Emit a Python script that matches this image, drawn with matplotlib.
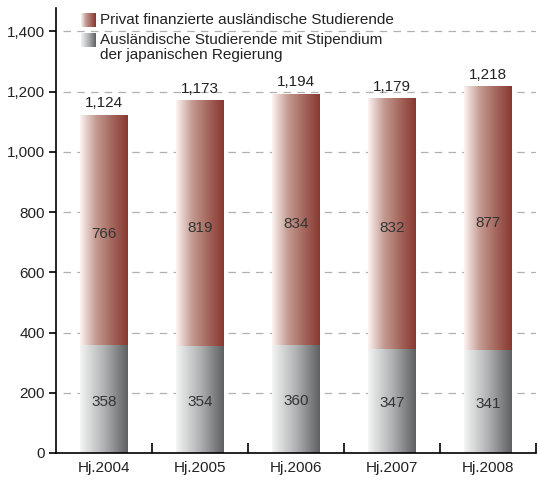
import numpy as np
import matplotlib
matplotlib.use("Agg")
import matplotlib.pyplot as plt
from matplotlib.colors import LinearSegmentedColormap

plt.rcParams['font.family'] = ['Liberation Sans', 'DejaVu Sans']

jahre = ["Hj.2004", "Hj.2005", "Hj.2006", "Hj.2007", "Hj.2008"]
stipendium = [358, 354, 360, 347, 341]
privat = [766, 819, 834, 832, 877]
gesamt = [1124, 1173, 1194, 1179, 1218]
yticks = [0, 200, 400, 600, 800, 1000, 1200, 1400]

rot = LinearSegmentedColormap.from_list("rot", ["#fbf4f2", "#c49b91", "#a5675e", "#873830"])
grau = LinearSegmentedColormap.from_list("grau", ["#f4f4f4", "#b0b2b4", "#5e6061"])
verlauf = np.linspace(0, 1, 256).reshape(1, -1)
fs = 11

fig = plt.figure(figsize=(5.38, 4.8), dpi=100)
ax = fig.add_axes([56 / 538, 27 / 480, 480 / 538, 445 / 480])

x = np.arange(len(jahre))
unten = ax.bar(x, stipendium, width=0.5, color="none", edgecolor="none", zorder=2)
oben = ax.bar(x, privat, width=0.5, bottom=stipendium, color="none", edgecolor="none", zorder=2)

# Farbverlauf in jeden Balken legen
for balken, cmap in [(unten, grau), (oben, rot)]:
    for b in balken:
        x0, y0 = b.get_x(), b.get_y()
        im = ax.imshow(verlauf, cmap=cmap, aspect="auto", zorder=2,
                       extent=[x0, x0 + b.get_width(), y0, y0 + b.get_height()])
        im.set_clip_path(b)

for i in range(len(jahre)):
    ax.text(x[i], stipendium[i] / 2 - 8, str(stipendium[i]), ha="center", va="center",
            fontsize=fs, color="#333333", zorder=3)
    ax.text(x[i], stipendium[i] + privat[i] / 2 - 15, str(privat[i]), ha="center", va="center",
            fontsize=fs, color="#333333", zorder=3)
    ax.text(x[i], gesamt[i] + 14, f"{gesamt[i]:,}", ha="center", va="bottom",
            fontsize=fs, color="#222222", zorder=3)

for y in yticks[1:]:
    ax.plot([-0.43, 4.5], [y, y], color="#b0b0b0", lw=0.9, ls=(0, (6, 5)), zorder=1)

ax.set_xlim(-0.5, 4.5)
ax.set_ylim(0, 1478)
ax.set_yticks(yticks)
ax.set_yticklabels([f"{v:,}" for v in yticks], fontsize=fs, color="#222222")
ax.set_xticks(x)
ax.set_xticklabels(jahre, fontsize=fs, color="#222222")
ax.tick_params(axis="x", length=0, pad=6)
ax.tick_params(axis="y", direction="out", length=5, width=1.2, pad=3)
ax.set_xticks(np.arange(0.5, 5, 1), minor=True)
ax.tick_params(axis="x", which="minor", direction="in", length=7, width=1.2)
for s in ["top", "right"]:
    ax.spines[s].set_visible(False)
for s in ["left", "bottom"]:
    ax.spines[s].set_linewidth(1.2)

# Legende
lax = fig.add_axes([81 / 538, 453 / 480, 14 / 538, 14 / 480])
lax.imshow(verlauf, cmap=rot, aspect="auto")
lax.axis("off")
lax2 = fig.add_axes([81 / 538, 433 / 480, 14 / 538, 14 / 480])
lax2.imshow(verlauf, cmap=grau, aspect="auto")
lax2.axis("off")
fig.text(100 / 538, 460 / 480, "Privat finanzierte ausländische Studierende",
         fontsize=fs, color="#222222", va="center")
fig.text(100 / 538, 447 / 480, "Ausländische Studierende mit Stipendium\nder japanischen Regierung",
         fontsize=fs, color="#222222", va="top", linespacing=1.1)

fig.savefig("out.png", dpi=100)
